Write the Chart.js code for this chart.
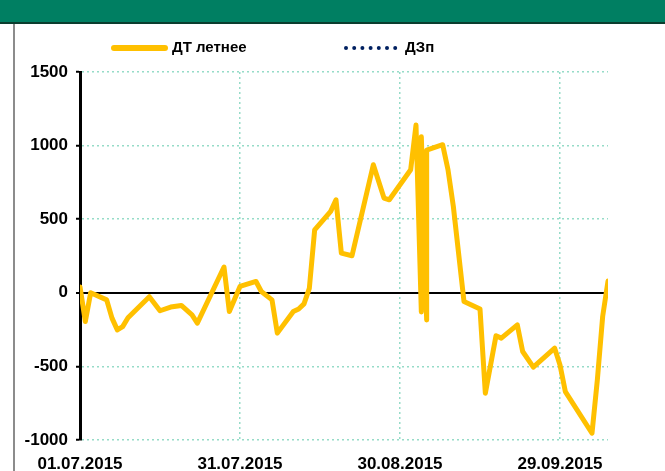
<!DOCTYPE html>
<html>
<head>
<meta charset="utf-8">
<script src="https://cdn.jsdelivr.net/npm/chart.js@4.4.0/dist/chart.umd.min.js"></script>
<style>
html,body{margin:0;padding:0;background:#fff;}
#wrap{position:relative;width:665px;height:471px;overflow:hidden;}
#head{position:absolute;left:0;top:0;width:665px;height:22px;background:#007f62;border-bottom:2px solid #0b3d2e;}
#side{position:absolute;left:13px;top:24px;width:2px;height:447px;background:#8c8c8c;}
canvas{position:absolute;left:0;top:0;}
</style>
</head>
<body>
<div id="wrap">
  <div id="head"></div>
  <div id="side"></div>
  <canvas id="canvas" width="665" height="471"></canvas>
</div>
<script>
// даты и значения
const dates = [
  "01.07.2015","02.07.2015","03.07.2015","06.07.2015","07.07.2015","08.07.2015","09.07.2015","10.07.2015",
  "14.07.2015","16.07.2015","18.07.2015","20.07.2015","22.07.2015","23.07.2015","28.07.2015","29.07.2015",
  "31.07.2015","03.08.2015","04.08.2015","06.08.2015","07.08.2015","10.08.2015","11.08.2015","12.08.2015",
  "13.08.2015","14.08.2015","17.08.2015","18.08.2015","19.08.2015","21.08.2015","25.08.2015","27.08.2015",
  "28.08.2015","01.09.2015","02.09.2015","03.09.2015","03.09.2015","04.09.2015","03.09.2015","04.09.2015",
  "03.09.2015","04.09.2015","04.09.2015","07.09.2015","08.09.2015","09.09.2015","11.09.2015","14.09.2015",
  "15.09.2015","17.09.2015","18.09.2015","21.09.2015","22.09.2015","24.09.2015","28.09.2015","29.09.2015",
  "30.09.2015","05.10.2015","06.10.2015","07.10.2015","08.10.2015"
];
const dtSummer = [
  40,-195,0,-48,-172,-252,-230,-170,
  -27,-122,-97,-86,-150,-206,175,-127,
  43,77,9,-48,-274,-127,-110,-75,
  30,428,553,632,270,252,870,644,
  632,836,1140,-130,1060,-150,1050,-160,
  1040,-185,970,1006,836,587,-59,-110,
  -682,-292,-308,-218,-399,-505,-376,-490,
  -671,-954,-592,-161,80
];
const dzp = [];
const seriesNames = ["ДТ летнее", "ДЗп"];
const xTickLabels = ["01.07.2015","31.07.2015","30.08.2015","29.09.2015"];
const yTicks = [-1000,-500,0,500,1000,1500];

const startDate = "01.07.2015";
const endDate = "08.10.2015";

function dayNo(s){
  var p = s.split(".");
  var b = startDate.split(".");
  return (Date.UTC(+p[2], p[1]-1, +p[0]) - Date.UTC(+b[2], b[1]-1, +b[0])) / 86400000;
}
function dayLabel(n){
  var b = startDate.split(".");
  var d = new Date(Date.UTC(+b[2], b[1]-1, +b[0]) + n*86400000);
  var dd = ("0"+d.getUTCDate()).slice(-2), mm = ("0"+(d.getUTCMonth()+1)).slice(-2);
  return dd+"."+mm+"."+d.getUTCFullYear();
}

let pts1 = [];
for (var i = 0; i < dates.length; i++) {
  pts1.push({x: dayNo(dates[i]), y: dtSummer[i]});
}

const gridColor = "#96dcc8";
const font = {family: "'Liberation Sans', Arial, sans-serif", size: 17, weight: "bold"};

// легенда рисуется вручную: линия и точки как в оригинале
const legendPlugin = {
  id: "legendLine",
  afterDraw(chart){
    let c = chart.ctx;
    let ds = chart.data.datasets;
    let y = 48;
    c.save();
    c.font = "bold 15px 'Liberation Sans', Arial, sans-serif";
    c.textBaseline = "middle";
    c.fillStyle = "#000";
    // первая серия
    c.strokeStyle = ds[0].borderColor;
    c.lineWidth = 6;
    c.lineCap = "round";
    c.beginPath();
    c.moveTo(114, y);
    c.lineTo(165, y);
    c.stroke();
    c.fillText(ds[0].label, 172, y);
    // вторая серия
    c.fillStyle = ds[1].borderColor;
    for (var k = 0; k < 7; k++) {
      c.beginPath();
      c.arc(346 + k*8.2, y, 2, 0, Math.PI*2);
      c.fill();
    }
    c.fillStyle = "#000";
    c.fillText(ds[1].label, 405, y);
    c.restore();
  }
};

let ctx = document.getElementById("canvas").getContext("2d");
let grafica = new Chart(ctx, {
  type: "line",
  data: {
    datasets: [{
      label: seriesNames[0],
      data: pts1,
      borderColor: "#ffc000",
      borderWidth: 5,
      borderJoinStyle: "round",
      borderCapStyle: "round",
      pointRadius: 0,
      tension: 0,
      fill: false
    }, {
      label: seriesNames[1],
      data: dzp,
      borderColor: "#002060",
      borderWidth: 3,
      borderDash: [2, 4],
      pointRadius: 0,
      fill: false
    }]
  },
  options: {
    responsive: false,
    animation: false,
    layout: {padding: {top: 72, right: 57, left: 0, bottom: 0}},
    plugins: {legend: {display: false}, tooltip: {enabled: false}},
    scales: {
      x: {
        type: "linear",
        min: dayNo(startDate),
        max: dayNo(endDate),
        afterFit: function(s){ s.height = 31; },
        afterBuildTicks: function(s){
          s.ticks = xTickLabels.map(function(l){ return {value: dayNo(l)}; });
        },
        ticks: {
          callback: function(v){ return dayLabel(v); },
          color: "#000",
          font: font,
          padding: 14,
          maxRotation: 0,
          autoSkip: false
        },
        grid: {color: gridColor, lineWidth: 1.5, drawTicks: false},
        border: {display: false, dash: [2, 3]}
      },
      y: {
        min: -1000,
        max: 1500,
        afterFit: function(s){ s.width = 80; },
        afterBuildTicks: function(s){
          s.ticks = yTicks.map(function(v){ return {value: v}; });
        },
        ticks: {
          color: "#000",
          font: font,
          padding: 8,
          callback: function(v){ return String(v); }
        },
        grid: {
          color: function(c){ return c.tick && c.tick.value === 0 ? "#000" : gridColor; },
          lineWidth: function(c){ return c.tick && c.tick.value === 0 ? 2 : 1.5; },
          tickColor: "#000",
          tickLength: 4,
          tickWidth: 2
        },
        border: {
          display: true,
          color: "#000",
          width: 3,
          dash: function(c){ return c.tick && c.tick.value !== 0 ? [2, 3] : []; }
        }
      }
    }
  },
  plugins: [legendPlugin]
});
</script>
</body>
</html>
